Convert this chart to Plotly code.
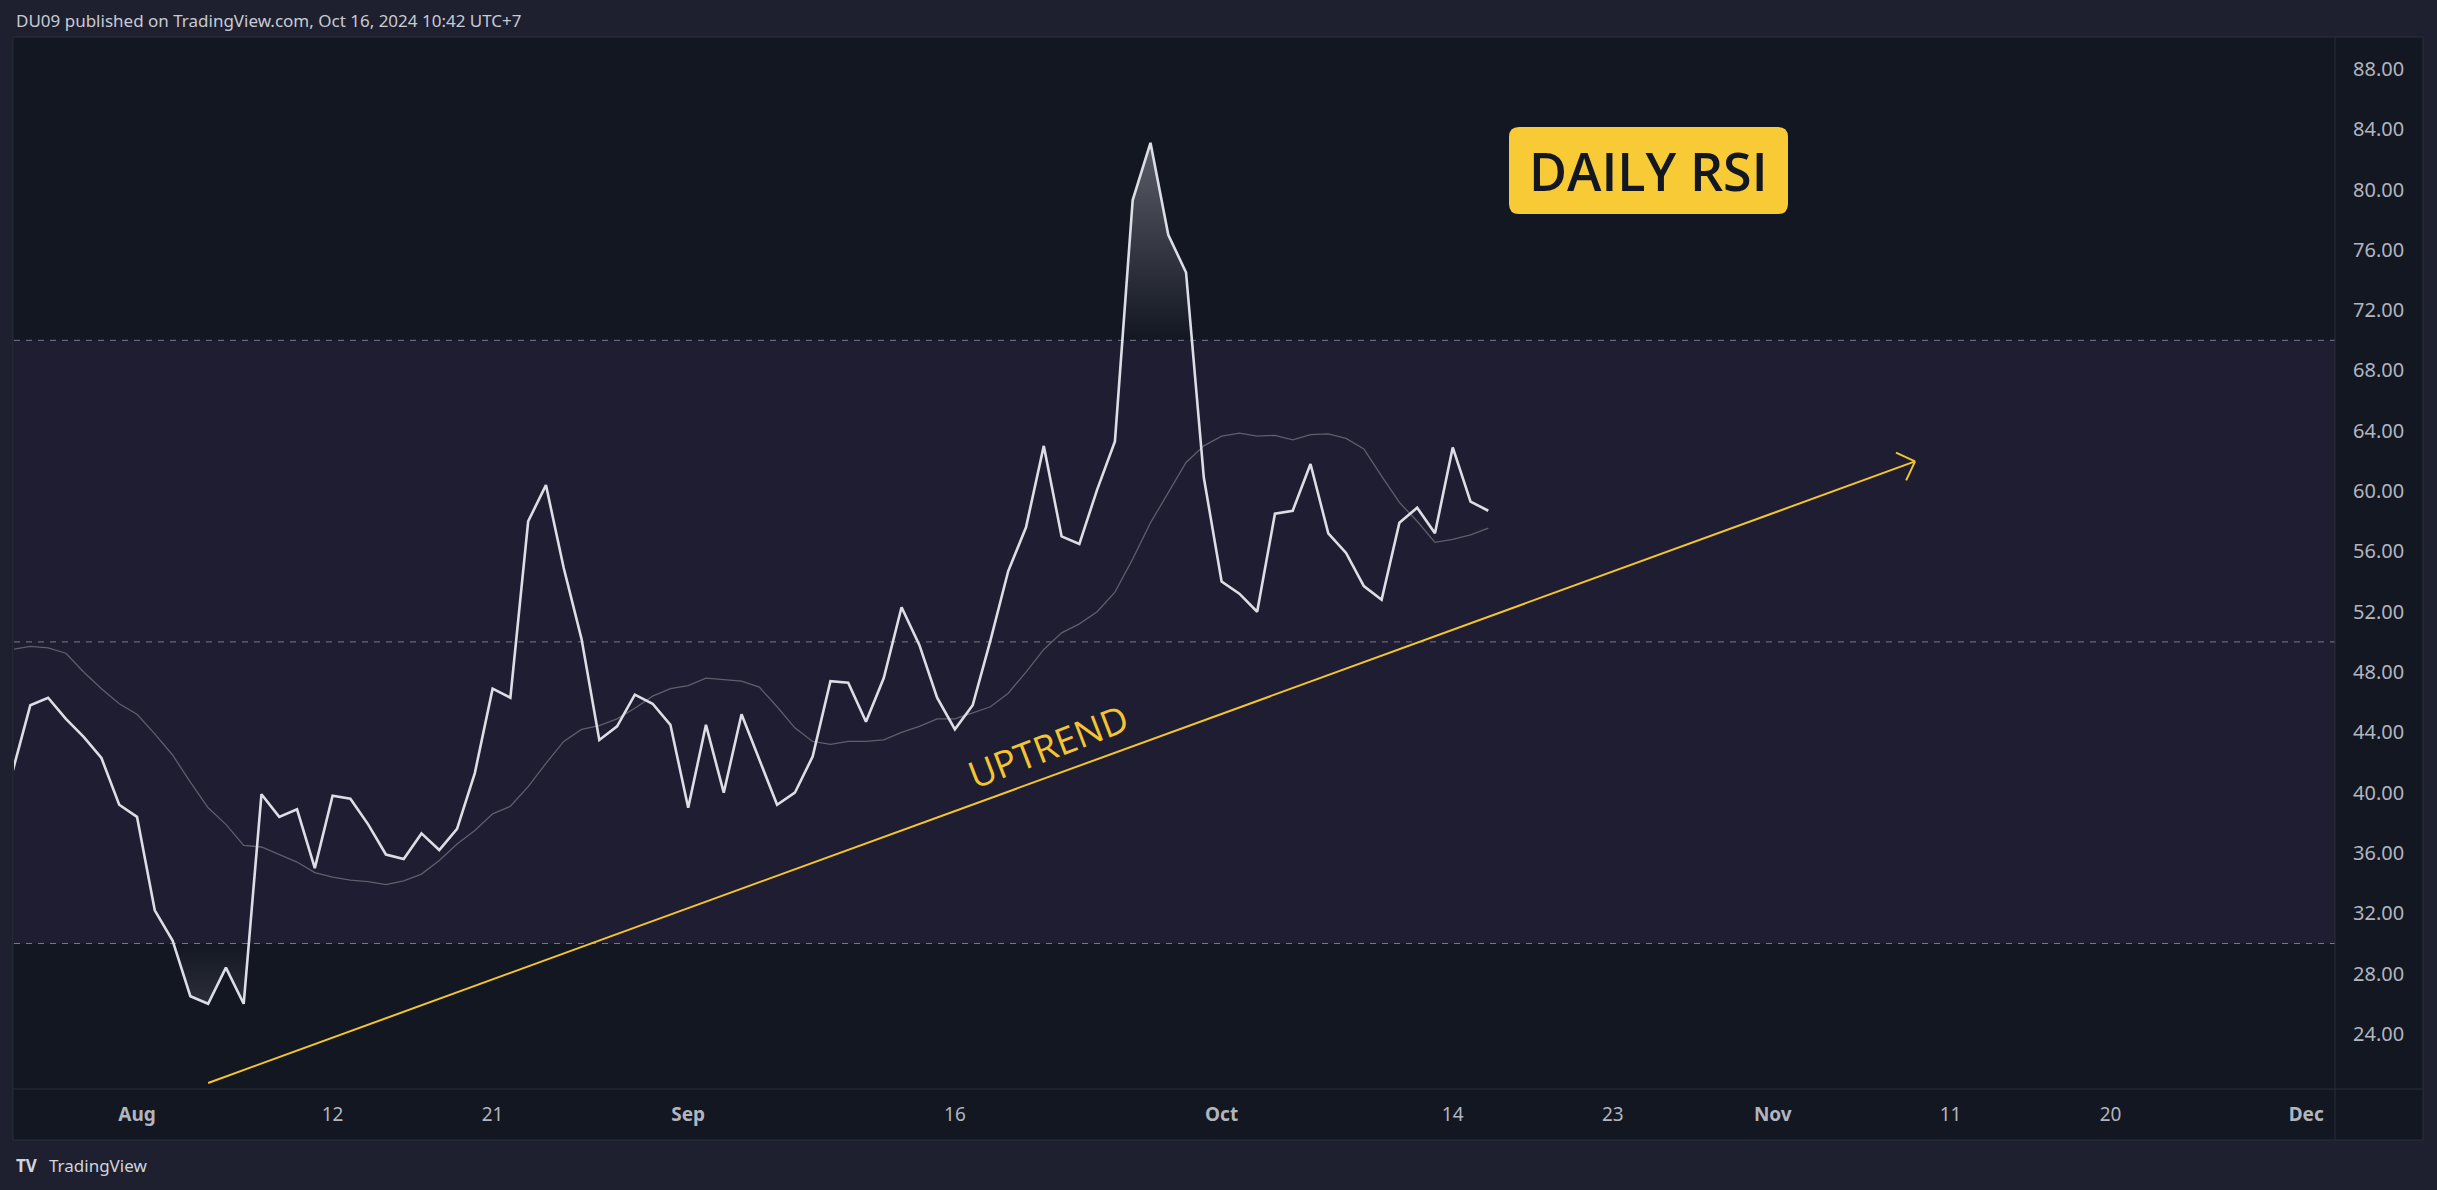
import numpy as np
import pandas as pd
import plotly.graph_objects as go

# ---------------- data ----------------
start_date = "2024-07-25"
rsi = [41.4, 45.8, 46.3, 44.9, 43.7, 42.3, 39.2, 38.4, 32.2, 30.2,
       26.5, 26.0, 28.4, 26.0, 39.9, 38.4, 38.9, 35.0, 39.8, 39.6,
       37.9, 35.9, 35.6, 37.3, 36.2, 37.6, 41.3, 46.9, 46.3, 58.0,
       60.4, 54.9, 50.2, 43.5, 44.4, 46.5, 45.9, 44.5, 39.0, 44.5,
       40.0, 45.2, 42.2, 39.2, 40.0, 42.4, 47.4, 47.3, 44.7, 47.6,
       52.3, 49.8, 46.3, 44.2, 45.8, 50.1, 54.7, 57.6, 63.0, 57.0,
       56.5, 60.1, 63.3, 79.3, 83.1, 77.0, 74.5, 60.9, 54.0, 53.2,
       52.0, 58.5, 58.7, 61.8, 57.2, 55.9, 53.7, 52.8, 57.9, 58.9,
       57.2, 62.9, 59.3, 58.7]
rsi_ma = [49.5, 49.7, 49.6, 49.25, 48.0, 46.9, 45.9, 45.2, 43.9, 42.5,
          40.7, 39.0, 37.9, 36.5, 36.4, 35.9, 35.4, 34.7, 34.4, 34.2,
          34.1, 33.9, 34.15, 34.6, 35.5, 36.6, 37.5, 38.6, 39.1, 40.4,
          41.95, 43.4, 44.2, 44.45, 44.9, 45.6, 46.4, 46.9, 47.1, 47.6,
          47.5, 47.4, 47.0, 45.7, 44.3, 43.4, 43.2, 43.4, 43.4, 43.5,
          44.0, 44.4, 44.9, 44.9, 45.3, 45.7, 46.6, 48.0, 49.5, 50.6,
          51.2, 52.0, 53.3, 55.5, 57.9, 59.9, 61.9, 63.0, 63.65, 63.85,
          63.65, 63.7, 63.4, 63.75, 63.8, 63.5, 62.8, 61.0, 59.25, 58.0,
          56.6, 56.8, 57.1, 57.55]
ytick_vals = [24, 28, 32, 36, 40, 44, 48, 52, 56, 60, 64, 68, 72, 76, 80, 84, 88]
xtick_dates = ["2024-08-01", "2024-08-12", "2024-08-21", "2024-09-01",
               "2024-09-16", "2024-10-01", "2024-10-14", "2024-10-23",
               "2024-11-01", "2024-11-11", "2024-11-20", "2024-12-01"]
xtick_labels = ["<b>Aug</b>", "12", "21", "<b>Sep</b>", "16", "<b>Oct</b>",
                "14", "23", "<b>Nov</b>", "11", "20", "<b>Dec</b>"]
level_overbought = 70
level_middle = 50
level_oversold = 30
trend_dates = ["2024-08-05", "2024-11-09"]
trend_values = [20.75, 61.97]
trend_label = "UPTREND"
trend_label_pos = ("2024-09-21 06:00", 43.1)
title_text = "DAILY RSI"
header_text = "DU09 published on TradingView.com, Oct 16, 2024 10:42 UTC+7"
x_range = ["2024-07-25 01:58", "2024-12-02 14:53"]
y_range = [20.35, 90.05]

# ---------------- geometry helpers ----------------
WIDTH, HEIGHT = 2437, 1190
L, R, T, B = 14, 2335, 38, 1089
PW, PH = R - L, B - T


def px(xp):
    return (xp - L) / PW


def py(yp):
    return (B - yp) / PH


dates = pd.date_range(start_date, periods=len(rsi), freq="D")
t0 = dates[0]


def to_date(d):
    return t0 + pd.to_timedelta(np.asarray(d, float), unit="D")


def excursions(y, level, above):
    y = np.asarray(y, float)
    inside = y > level if above else y < level
    polys = []
    n = len(y)
    i = 0
    while i < n:
        if inside[i]:
            j = i
            while j + 1 < n and inside[j + 1]:
                j += 1
            xs, ys = [], []
            if i > 0:
                t = (level - y[i - 1]) / (y[i] - y[i - 1])
                xs.append(i - 1 + t)
                ys.append(level)
            for k in range(i, j + 1):
                xs.append(k)
                ys.append(y[k])
            if j + 1 < n:
                t = (level - y[j]) / (y[j + 1] - y[j])
                xs.append(j + t)
                ys.append(level)
            polys.append((xs, ys))
            i = j + 1
        else:
            i += 1
    return polys


fig = go.Figure()

grad_col = "200,202,212"
for xs, ys in excursions(rsi, level_overbought, True):
    fig.add_trace(go.Scatter(
        x=to_date(xs), y=ys, mode="lines", line=dict(width=0),
        fill="toself", hoverinfo="skip", showlegend=False,
        fillgradient=dict(type="vertical", start=level_overbought, stop=100,
                          colorscale=[[0, f"rgba({grad_col},0)"], [1, f"rgba({grad_col},0.9)"]])))
for xs, ys in excursions(rsi, level_oversold, False):
    fig.add_trace(go.Scatter(
        x=to_date(xs), y=ys, mode="lines", line=dict(width=0),
        fill="toself", hoverinfo="skip", showlegend=False,
        fillgradient=dict(type="vertical", start=0, stop=level_oversold,
                          colorscale=[[0, f"rgba({grad_col},1)"], [1, f"rgba({grad_col},0)"]])))

fig.add_trace(go.Scatter(x=dates, y=rsi_ma, mode="lines",
                         line=dict(color="#5d606b", width=1.3), showlegend=False))
fig.add_trace(go.Scatter(x=dates, y=rsi, mode="lines",
                         line=dict(color="#dcdee6", width=2.6), showlegend=False))

shapes = []
# chart panel (plot + axis areas)
shapes.append(dict(type="rect", xref="paper", yref="paper", layer="below",
                   x0=px(13), x1=px(2423), y0=py(1140), y1=py(37),
                   fillcolor="#131722", line=dict(color="#2a2e39", width=1)))
# RSI band
shapes.append(dict(type="rect", xref="paper", yref="y", layer="below",
                   x0=0, x1=1, y0=level_oversold, y1=level_overbought,
                   fillcolor="rgba(126,87,194,0.1)", line=dict(width=0)))
for lv in (level_overbought, level_middle, level_oversold):
    shapes.append(dict(type="line", xref="paper", yref="y", layer="below",
                       x0=0, x1=1, y0=lv, y1=lv,
                       line=dict(color="#787b86", width=1, dash="6px,6px")))
# axis separators
shapes.append(dict(type="line", xref="paper", yref="paper", layer="above",
                   x0=1, x1=1, y0=py(1140), y1=py(37),
                   line=dict(color="#2a2e39", width=1)))
shapes.append(dict(type="line", xref="paper", yref="paper", layer="above",
                   x0=px(13), x1=px(2423), y0=0, y1=0,
                   line=dict(color="#2a2e39", width=1)))

# trend line with open arrow head
yellow = "#f5c431"
shapes.append(dict(type="line", xref="x", yref="y",
                   x0=trend_dates[0], y0=trend_values[0],
                   x1=trend_dates[1], y1=trend_values[1],
                   line=dict(color=yellow, width=2)))
xr0 = (pd.Timestamp(x_range[0]) - t0) / pd.Timedelta(days=1)
xr1 = (pd.Timestamp(x_range[1]) - t0) / pd.Timedelta(days=1)
ppd = PW / (xr1 - xr0)
ppu = PH / (y_range[1] - y_range[0])
d0 = (pd.Timestamp(trend_dates[0]) - t0) / pd.Timedelta(days=1)
d1 = (pd.Timestamp(trend_dates[1]) - t0) / pd.Timedelta(days=1)
vx = (d0 - d1) * ppd
vy = (trend_values[0] - trend_values[1]) * ppu
nrm = np.hypot(vx, vy)
vx, vy = vx / nrm, vy / nrm
arm_len = 21
for ang in (np.radians(45), np.radians(-45)):
    ax_ = vx * np.cos(ang) - vy * np.sin(ang)
    ay_ = vx * np.sin(ang) + vy * np.cos(ang)
    ex = d1 + ax_ * arm_len / ppd
    ey = trend_values[1] + ay_ * arm_len / ppu
    shapes.append(dict(type="line", xref="x", yref="y",
                       x0=trend_dates[1], y0=trend_values[1],
                       x1=to_date([ex])[0], y1=ey,
                       line=dict(color=yellow, width=2)))

# rounded label box
bx0, bx1, by0, by1 = px(1509), px(1788), py(214), py(127)
rx, ry = 10 / PW, 10 / PH
path = (f"M {bx0+rx},{by1} L {bx1-rx},{by1} Q {bx1},{by1} {bx1},{by1-ry} "
        f"L {bx1},{by0+ry} Q {bx1},{by0} {bx1-rx},{by0} "
        f"L {bx0+rx},{by0} Q {bx0},{by0} {bx0},{by0+ry} "
        f"L {bx0},{by1-ry} Q {bx0},{by1} {bx0+rx},{by1} Z")
shapes.append(dict(type="path", xref="paper", yref="paper", path=path,
                   fillcolor="#f8cb36", line=dict(width=0), layer="above"))

annotations = [
    dict(text=title_text, xref="paper", yref="paper",
         x=(bx0 + bx1) / 2, y=(by0 + by1) / 2, showarrow=False,
         font=dict(family="Open Sans", size=52, color="#131722", weight=600),
         xanchor="center", yanchor="middle"),
    dict(text=trend_label, xref="x", yref="y",
         x=trend_label_pos[0], y=trend_label_pos[1], showarrow=False,
         textangle=-21, font=dict(family="Open Sans", size=37, color=yellow)),
    dict(text=header_text, xref="paper", yref="paper", x=0, y=py(21),
         xanchor="left", yanchor="middle", showarrow=False,
         font=dict(family="Noto Sans", size=17, color="#c8cbd3")),
    dict(text="<b>TV</b>", xref="paper", yref="paper", x=0, y=py(1165),
         xanchor="left", yanchor="middle", showarrow=False,
         font=dict(family="Noto Sans", size=17, color="#d1d4dc")),
    dict(text="TradingView", xref="paper", yref="paper", x=px(47), y=py(1165),
         xanchor="left", yanchor="middle", showarrow=False,
         font=dict(family="Noto Sans", size=17, color="#d1d4dc")),
]

fig.update_layout(
    width=WIDTH, height=HEIGHT,
    margin=dict(l=L, r=WIDTH - R, t=T, b=HEIGHT - B, pad=0),
    paper_bgcolor="#1e2030", plot_bgcolor="#131722",
    shapes=shapes, annotations=annotations, showlegend=False,
    font=dict(family="Noto Sans", color="#b2b5be"),
)
fig.update_xaxes(type="date", range=x_range, tickvals=xtick_dates, ticktext=xtick_labels,
                 showgrid=False, zeroline=False, showline=False, ticks="",
                 tickfont=dict(size=19, color="#b2b5be"), ticklabelstandoff=12)
fig.update_yaxes(range=y_range, side="right", tickvals=ytick_vals,
                 ticktext=[f"{v:.2f}" for v in ytick_vals],
                 showgrid=False, zeroline=False, showline=False, ticks="",
                 tickfont=dict(size=20, color="#b2b5be"), ticklabelstandoff=17)

fig.write_html("out.html")
